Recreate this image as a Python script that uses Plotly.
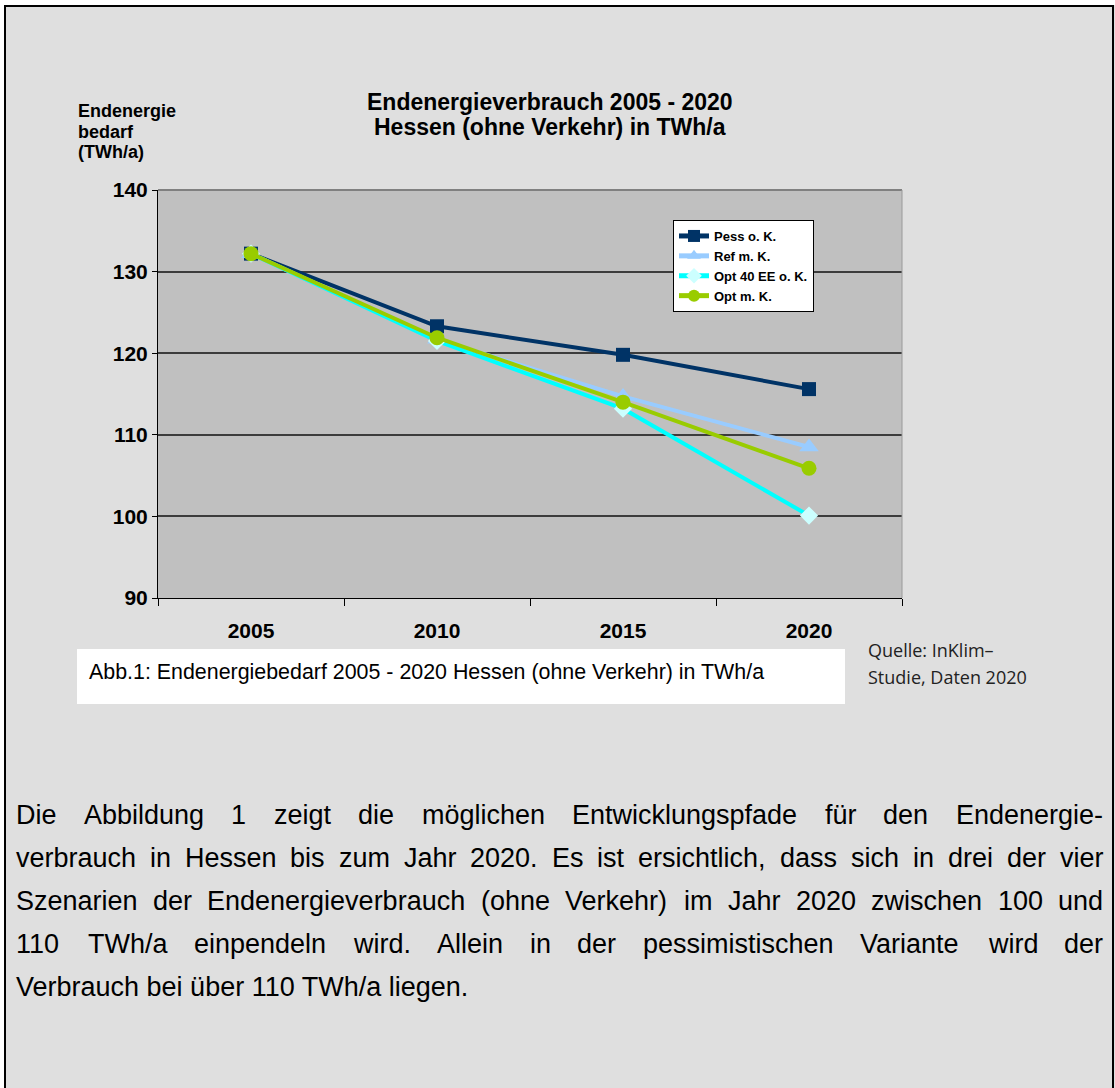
import plotly.graph_objects as go

W, H = 1115, 1088

years = ["2005", "2010", "2015", "2020"]
pess = [132.2, 123.3, 119.8, 115.6]
ref = [132.2, 121.7, 114.7, 108.5]
opt40 = [132.2, 121.5, 113.2, 100.1]
optmk = [132.2, 121.9, 114.0, 105.9]
series_names = ["Pess o. K.", "Ref m. K.", "Opt 40 EE o. K.", "Opt m. K."]
y_ticks = [90, 100, 110, 120, 130, 140]

title_lines = ["Endenergieverbrauch 2005 - 2020", "Hessen (ohne Verkehr) in TWh/a"]
ylabel_lines = ["Endenergie", "bedarf", "(TWh/a)"]
caption_text = "Abb.1: Endenergiebedarf 2005 - 2020 Hessen (ohne Verkehr) in TWh/a"
source_lines = ["Quelle: InKlim–", "Studie, Daten 2020"]
paragraph = [
    "Die Abbildung 1 zeigt die möglichen Entwicklungspfade für den Endenergie-",
    "verbrauch in Hessen bis zum Jahr 2020. Es ist ersichtlich, dass sich in drei der vier",
    "Szenarien der Endenergieverbrauch (ohne Verkehr) im Jahr 2020 zwischen 100 und",
    "110 TWh/a einpendeln wird. Allein in der pessimistischen Variante wird der",
    "Verbrauch bei über 110 TWh/a liegen.",
]


def px(x):
    return x / W


def py(y):
    return 1 - y / H


# Arial / Liberation Sans advance widths (1/1000 em)
AW = {' ': 278, '.': 278, ',': 278, ':': 278, '-': 333, '(': 333, ')': 333, '/': 278,
      'a': 556, 'b': 556, 'c': 500, 'd': 556, 'e': 556, 'f': 278, 'g': 556, 'h': 556,
      'i': 222, 'j': 222, 'k': 500, 'l': 222, 'm': 833, 'n': 556, 'o': 556, 'p': 556,
      'q': 556, 'r': 333, 's': 500, 't': 278, 'u': 556, 'v': 500, 'w': 722, 'x': 500,
      'y': 500, 'z': 500, 'ä': 556, 'ö': 556, 'ü': 556, 'ß': 611,
      'A': 667, 'B': 667, 'D': 722, 'E': 667, 'H': 722, 'J': 500, 'S': 667, 'T': 611,
      'V': 667, 'W': 944, 'K': 667}
for d in "0123456789":
    AW[d] = 556


def tw(s, size):
    return sum(AW.get(c, 556) for c in s) * size / 1000.0


fig = go.Figure()

styles = [
    dict(line=dict(color="#003366", width=4), marker=dict(symbol="square", size=14, color="#003366")),
    dict(line=dict(color="#99ccff", width=4), marker=dict(symbol="triangle-up", size=17, color="#99ccff")),
    dict(line=dict(color="#00ffff", width=4), marker=dict(symbol="diamond", size=14, color="#ccffff")),
    dict(line=dict(color="#99cc00", width=4), marker=dict(symbol="circle", size=15, color="#99cc00")),
]
for name, vals, st in zip(series_names, [pess, ref, opt40, optmk], styles):
    fig.add_trace(go.Scatter(x=years, y=vals, name=name, mode="lines+markers",
                             line=st["line"], marker=st["marker"], hoverinfo="skip"))

plot_l, plot_r, plot_t, plot_b = 158, 902, 190, 598

fig.update_layout(
    template="none",
    width=W, height=H, autosize=False,
    margin=dict(l=0, r=0, t=0, b=0, pad=0, autoexpand=False),
    paper_bgcolor="#dfdfdf",
    plot_bgcolor="#c0c0c0",
    font=dict(family="Liberation Sans, Arial", color="black"),
    showlegend=True,
    legend=dict(x=px(673), y=py(220), xanchor="left", yanchor="top",
                bgcolor="white", bordercolor="black", borderwidth=1,
                font=dict(size=13, weight="bold", family="Liberation Sans"),
                itemwidth=30, tracegroupgap=0, itemsizing="constant"),
    xaxis=dict(type="category", categoryorder="array", categoryarray=years,
               domain=[px(plot_l), px(plot_r)], range=[-0.5, 3.5], automargin=False,
               showline=True, linecolor="black", linewidth=1,
               ticks="outside", tickson="boundaries", ticklen=7, tickcolor="black",
               tickfont=dict(size=21, weight="bold"), ticklabelstandoff=14,
               showgrid=False, zeroline=False, fixedrange=True),
    yaxis=dict(range=[90, 140], tickvals=y_ticks, automargin=False,
               domain=[py(plot_b), py(plot_t)],
               showline=True, linecolor="black", linewidth=1,
               ticks="outside", ticklen=5, tickcolor="black",
               tickfont=dict(size=21, weight="bold"),
               showgrid=True, gridcolor="#3c3c3c", gridwidth=1.5,
               zeroline=False, fixedrange=True),
)

shapes = []
# white outside of frame
shapes.append(dict(type="rect", xref="paper", yref="paper", x0=0, x1=1, y0=py(5), y1=1,
                   fillcolor="white", line=dict(width=0), layer="below"))
shapes.append(dict(type="rect", xref="paper", yref="paper", x0=0, x1=px(4), y0=0, y1=1,
                   fillcolor="white", line=dict(width=0), layer="below"))
# frame border
shapes.append(dict(type="line", xref="paper", yref="paper", x0=px(4), x1=px(1114), y0=py(6), y1=py(6),
                   line=dict(color="black", width=2)))
shapes.append(dict(type="line", xref="paper", yref="paper", x0=px(5), x1=px(5), y0=py(6), y1=0,
                   line=dict(color="black", width=2)))
shapes.append(dict(type="line", xref="paper", yref="paper", x0=px(1113), x1=px(1113), y0=py(6), y1=0,
                   line=dict(color="black", width=2)))
# plot area top/right border
shapes.append(dict(type="line", xref="paper", yref="paper", x0=px(plot_l), x1=px(plot_r), y0=py(plot_t), y1=py(plot_t),
                   line=dict(color="#808080", width=2)))
shapes.append(dict(type="line", xref="paper", yref="paper", x0=px(plot_r), x1=px(plot_r), y0=py(plot_t), y1=py(plot_b),
                   line=dict(color="#9a9a9a", width=1)))
# caption box
shapes.append(dict(type="rect", xref="paper", yref="paper", x0=px(77), x1=px(845), y0=py(704), y1=py(649),
                   fillcolor="white", line=dict(width=0), layer="below"))
fig.update_layout(shapes=shapes)

ann = []


def add_text(text, x, y, size, xanchor="left", bold=False, family=None, color="black"):
    f = dict(size=size, color=color)
    if family:
        f["family"] = family
    if bold:
        f["weight"] = "bold"
    ann.append(dict(text=text, x=px(x), y=py(y), xref="paper", yref="paper",
                    xanchor=xanchor, yanchor="middle", showarrow=False,
                    borderpad=0, borderwidth=0, font=f))


for i, t in enumerate(title_lines):
    add_text(t, 550, 102 + i * 25, 23, xanchor="center", bold=True)
for i, t in enumerate(ylabel_lines):
    add_text(t, 78, 111 + i * 20.5, 18, bold=True)
add_text(caption_text, 89, 672, 21.4)
for i, t in enumerate(source_lines):
    add_text(t, 868, 650 + i * 26.5, 18, family="Open Sans", color="#222222")

# justified paragraph
fs = 27
left, right = 16, 1103
line_y0, line_dy = 815, 43
for i, line in enumerate(paragraph):
    yy = line_y0 + i * line_dy
    words = line.split(" ")
    if i < len(paragraph) - 1 and len(words) > 1:
        total = sum(tw(w_, fs) for w_ in words)
        gap = (right - left - total) / (len(words) - 1)
        x = left
        for w_ in words:
            add_text(w_, x, yy, fs)
            x += tw(w_, fs) + gap
    else:
        add_text(line, left, yy, fs)
fig.update_layout(annotations=ann)

fig.write_html(
    "out.html", config={"displayModeBar": False},
    post_script=("var gd=document.getElementById('{plot_id}');"
                 "document.body.style.margin='0';document.body.style.overflow='hidden';"
                 "gd.style.position='absolute';gd.style.left='0px';gd.style.top='0px';"))
